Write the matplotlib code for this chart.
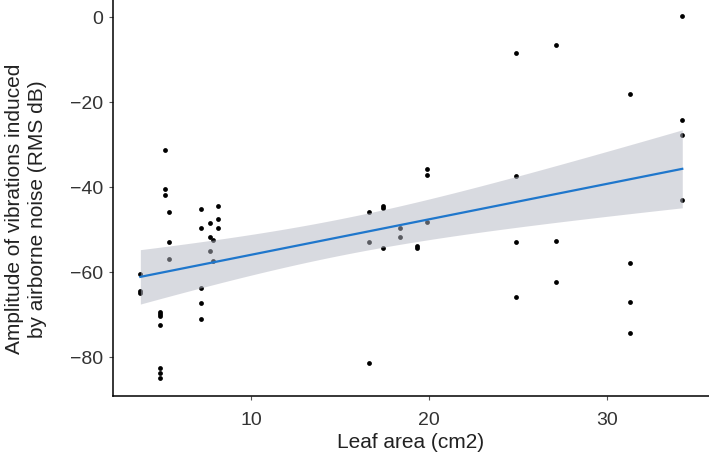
import numpy as np
import matplotlib
matplotlib.use("Agg")
import matplotlib.pyplot as plt

plt.rcParams['font.family'] = ['Liberation Sans', 'DejaVu Sans']

# leaf area (cm2) and amplitude (RMS dB)
leaf_area = [3.8, 3.8, 3.8,
             4.9, 4.9, 4.9, 4.9, 4.9, 4.9, 4.9,
             5.2, 5.2, 5.2,
             5.4, 5.4, 5.4,
             7.2, 7.2, 7.2, 7.2, 7.2,
             7.7, 7.7, 7.7,
             7.9, 7.9,
             8.15, 8.15, 8.15,
             16.6, 16.6, 16.6,
             17.4, 17.4, 17.4,
             18.35, 18.35,
             19.3, 19.3,
             19.9, 19.9, 19.9,
             24.9, 24.9, 24.9, 24.9,
             27.1, 27.1, 27.1,
             31.25, 31.25, 31.25, 31.25,
             34.2, 34.2, 34.2, 34.2]
amplitude = [-60.6, -64.6, -65.0,
             -69.5, -70.0, -70.4, -72.4, -82.5, -83.8, -85.0,
             -31.4, -40.4, -42.0,
             -45.8, -53.0, -56.9,
             -45.3, -49.7, -63.7, -67.3, -71.0,
             -48.6, -51.9, -55.1,
             -52.6, -57.4,
             -44.4, -47.6, -49.7,
             -46.0, -52.9, -81.5,
             -44.5, -44.9, -54.4,
             -49.7, -51.8,
             -53.8, -54.4,
             -35.9, -37.1, -48.2,
             -8.5, -37.5, -52.9, -65.8,
             -6.7, -52.8, -62.4,
             -18.2, -58.0, -67.1, -74.4,
             0.1, -24.2, -27.7, -43.1]

x = np.array(leaf_area)
y = np.array(amplitude)

# linear fit with 95% confidence band
n = len(x)
b, a = np.polyfit(x, y, 1)
xs = np.linspace(x.min(), x.max(), 100)
ys = a + b * xs
resid = y - (a + b * x)
s = np.sqrt(np.sum(resid ** 2) / (n - 2))
se = s * np.sqrt(1 / n + (xs - x.mean()) ** 2 / np.sum((x - x.mean()) ** 2))
t = 2.004
lo, hi = ys - t * se, ys + t * se

fig = plt.figure(figsize=(7.09, 4.6), dpi=100)
ax = fig.add_axes([0.159, 0.137, 0.841, 0.863])
ax.scatter(x, y, s=12, color='black', zorder=1, linewidths=0)
ax.fill_between(xs, lo, hi, color='#b3b6c2', alpha=0.5, linewidth=0, zorder=2)
ax.plot(xs, ys, color='#1f77cc', linewidth=1.6, zorder=3)

ax.set_xlim(2.25, 35.7)
ax.set_ylim(-89.2, 4.2)
ax.set_xticks([10, 20, 30])
ax.set_yticks([0, -20, -40, -60, -80])
for side in ['top', 'right']:
    ax.spines[side].set_visible(False)
for side in ['left', 'bottom']:
    ax.spines[side].set_linewidth(1.1)
ax.tick_params(length=3, width=0.8, color='#555555', labelsize=14, labelcolor='#333333')
ax.tick_params(axis='x', pad=8)
ax.tick_params(axis='y', pad=4)
ax.set_xlabel('Leaf area (cm2)', fontsize=15, color='#222222', labelpad=3)
ax.set_ylabel('Amplitude of vibrations induced\nby airborne noise (RMS dB)', fontsize=15,
              color='#222222', linespacing=1.25)
ax.yaxis.set_label_coords(-0.11, 0.473)

fig.savefig('out.png', dpi=100)
